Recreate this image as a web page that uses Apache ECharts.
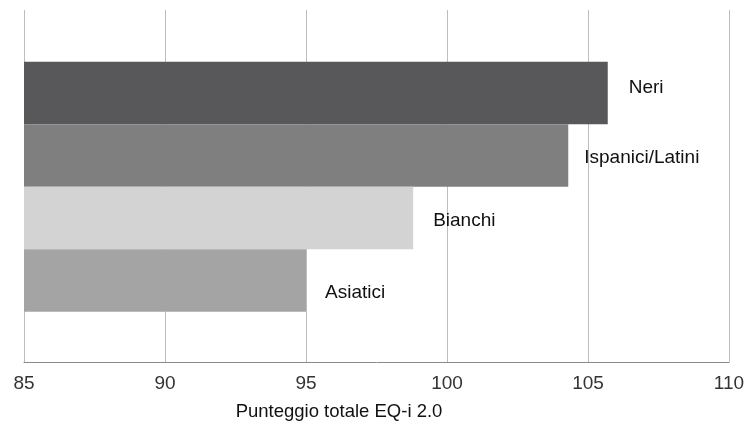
<!DOCTYPE html>
<html><head><meta charset="utf-8">
<script src="https://cdn.jsdelivr.net/npm/echarts@6/dist/echarts.min.js"></script>
<style>html,body{margin:0;padding:0;background:#fff}#c{width:748px;height:426px}</style>
</head><body><div id="c"></div>
<script>
var categories = ['Neri', 'Ispanici/Latini', 'Bianchi', 'Asiatici'];
var values = [105.7, 104.3, 98.8, 95.0];
var xTicks = [85, 90, 95, 100, 105, 110];
var axisTitle = 'Punteggio totale EQ-i 2.0';

var colors = ['#58585a', '#7f7f7f', '#d3d3d3', '#a4a4a4'];
var offsets = [[1, -5], [-4, 2.5], [0, 3], [-1, 12]];
var font = 'Liberation Sans, Arial, sans-serif';

var chart = echarts.init(document.getElementById('c'), null, {renderer: 'canvas'});
chart.setOption({
  animation: false,
  title: {
    text: axisTitle, left: 334, top: 397, textAlign: 'center',
    textStyle: {fontFamily: font, fontSize: 18.5, fontWeight: 'normal', color: '#111'}
  },
  grid: [
    {left: 24, right: 19, top: 10, bottom: 64},
    {left: 24, right: 19, top: 61.7, bottom: 114.3}
  ],
  xAxis: [
    {gridIndex: 0, type: 'value', min: xTicks[0], max: xTicks[xTicks.length - 1], interval: 5,
     axisLine: {show: true, lineStyle: {color: '#8a8a8a', width: 1}},
     axisTick: {show: false},
     axisLabel: {fontFamily: font, fontSize: 19, color: '#333', margin: 12},
     splitLine: {show: true, lineStyle: {color: '#bdbdbd', width: 1}}},
    {gridIndex: 1, type: 'value', min: xTicks[0], max: xTicks[xTicks.length - 1], show: false}
  ],
  yAxis: [
    {gridIndex: 0, type: 'value', min: 0, max: 1, axisLine: {show: false}, axisTick: {show: false},
     axisLabel: {show: false}, splitLine: {show: false}},
    {gridIndex: 1, type: 'category', data: categories, inverse: true, show: false}
  ],
  series: [{
    type: 'bar', xAxisIndex: 1, yAxisIndex: 1,
    barWidth: '100%', barCategoryGap: 0,
    data: values.map(function (v, i) {
      return {value: v, itemStyle: {color: colors[i]},
        label: {offset: offsets[i]}};
    }),
    label: {show: true, position: 'right', distance: 20, formatter: '{b}',
      fontFamily: font, fontSize: 19, color: '#111'}
  }]
});
</script></body></html>
